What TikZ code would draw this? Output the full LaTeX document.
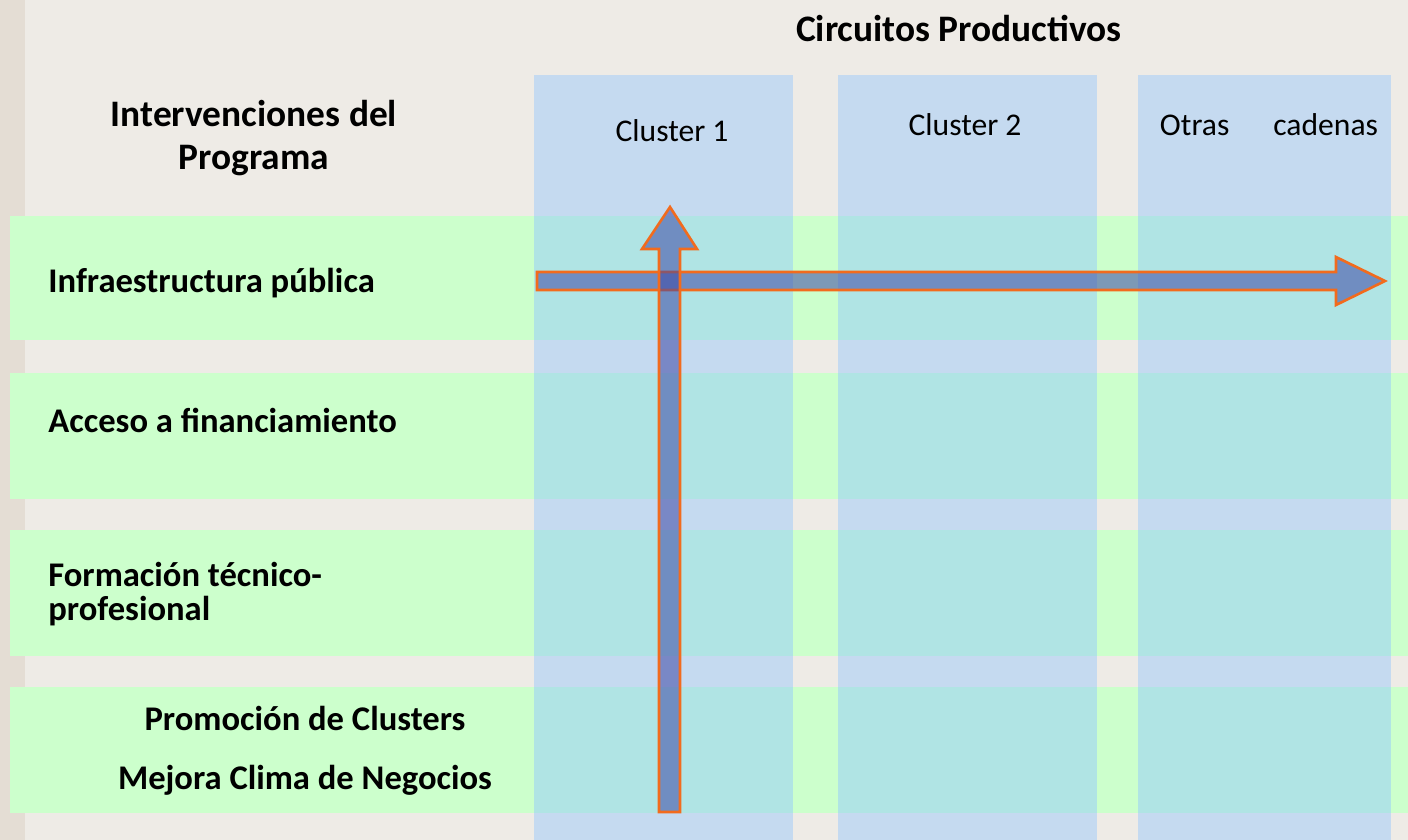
\documentclass[tikz,border=0pt]{standalone}
\usepackage{fontspec}
\setmainfont{Carlito}
\definecolor{paper}{HTML}{EEEBE6}
\definecolor{paperdark}{HTML}{E4DDD4}
\definecolor{bandgreen}{HTML}{CCFFCC}
\definecolor{colblue}{HTML}{C5DAF0}
\definecolor{mixcyan}{HTML}{B0E4E4}
\definecolor{arrowblue}{HTML}{3C46A5}
\definecolor{arroworange}{HTML}{F26B1D}
\tikzset{
  rowlabel/.style={font=\bfseries\fontsize{17.3}{17}\selectfont, anchor=west, align=left, inner sep=0pt},
  headlabel/.style={font=\bfseries\fontsize{18.7}{21.5}\selectfont, align=center, inner sep=0pt},
  collabel/.style={font=\fontsize{15.8}{18}\selectfont, inner sep=0pt},
  blockarrow/.style={fill=arrowblue, fill opacity=0.55, draw=arroworange, line width=1.3pt, line join=miter}
}
\begin{document}
\begin{tikzpicture}[x=0.5pt,y=-0.5pt]
\useasboundingbox (0,0) rectangle (1408,840);
\fill[paper] (0,0) rectangle (1408,840);
\fill[paperdark] (0,0) rectangle (25,840);

% green bands (rows)
\foreach \top/\bot in {216/340,373/499,530/656,687/813}
  \fill[bandgreen] (10,\top) rectangle (1408,\bot);

% blue columns
\foreach \lft/\rgt in {534/793,838/1097,1138/1391}
{
  \fill[colblue] (\lft,75) rectangle (\rgt,840);
  \foreach \top/\bot in {216/340,373/499,530/656,687/813}
    \fill[mixcyan] (\lft,\top) rectangle (\rgt,\bot);
}

% headers
\node[headlabel] (circuitos) at (959,28) {Circuitos Productivos};
\node[headlabel] (intervenciones) at (254,138) {Intervenciones del\\Programa};

\node[collabel] (cluster1) at (672,131) {Cluster 1};
\node[collabel] (cluster2) at (965,125) {Cluster 2};
\node[collabel] (otras) at (1269,125) {Otras\hspace{22pt}cadenas};

% row labels
\node[rowlabel] (infra) at (48,283) {Infraestructura pública};
\node[rowlabel] (acceso) at (48,420) {Acceso a financiamiento};
\node[rowlabel] (formacion) at (48,594) {Formación técnico-\\profesional};
\node[rowlabel, anchor=center] (promocion) at (305,718) {Promoción de Clusters};
\node[rowlabel, anchor=center] (mejora) at (305,780) {Mejora Clima de Negocios};

% block arrows
\filldraw[blockarrow] (537,272) -- (1336,272) -- (1336,257) -- (1385,281)
  -- (1336,305) -- (1336,290) -- (537,290) -- cycle;
\filldraw[blockarrow] (659,812) -- (659,249) -- (642,249) -- (670,207)
  -- (697,249) -- (680,249) -- (680,812) -- cycle;
\end{tikzpicture}
\end{document}
